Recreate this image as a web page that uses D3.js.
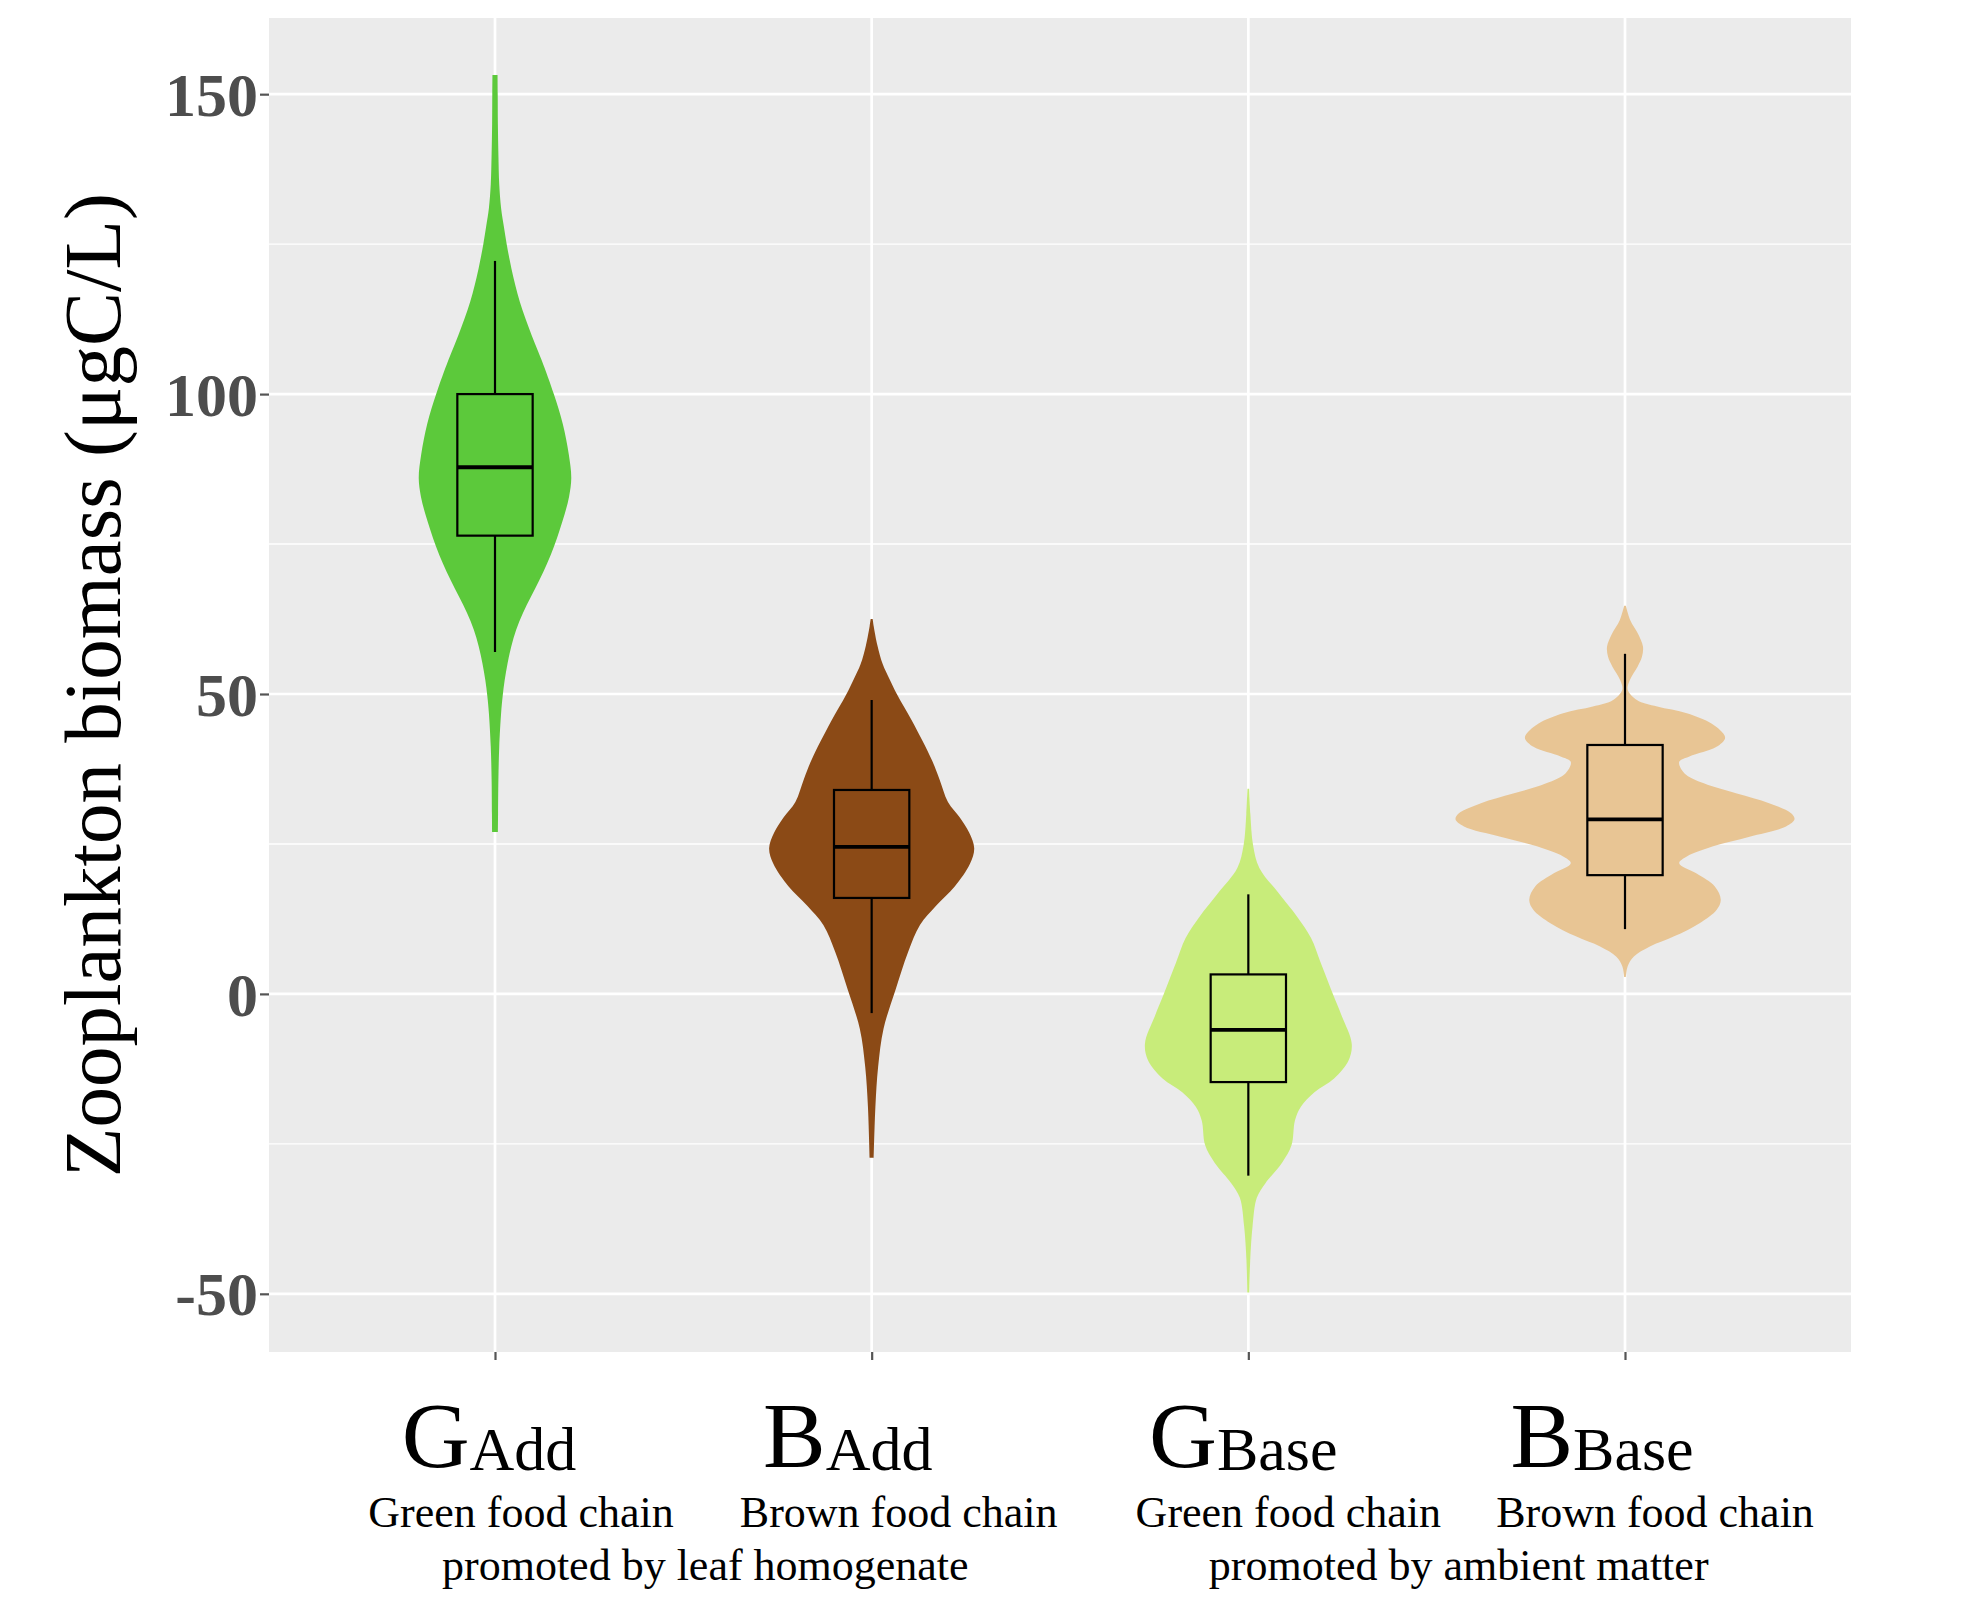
<!DOCTYPE html>
<html>
<head>
<meta charset="utf-8">
<script src="https://cdn.jsdelivr.net/npm/d3@7"></script>
<style>
  body { margin: 0; background: white; }
  svg { display: block; }
</style>
</head>
<body>
<div id="chart"></div>
<script>

// DATA =========================================
const categories = ["GAdd", "BAdd", "GBase", "BBase"];
const mainLetters = ["G", "B", "G", "B"];
const subLetters = ["Add", "Add", "Base", "Base"];
const chainLabels = ["Green food chain", "Brown food chain", "Green food chain", "Brown food chain"];
const groupLabels = ["promoted by leaf homogenate", "promoted by ambient matter"];
const fillColors = ["#5CC93B", "#8B4A16", "#C8EC7A", "#E8C594"];

// box plot stats
const whiskerLow  = [57, -3.2, -30.3, 10.8];
const q1          = [76.4, 16, -14.7, 19.8];
const median      = [87.8, 24.5, -6, 29.1];
const q3          = [100, 34, 3.25, 41.5];
const whiskerHigh = [122.2, 49, 16.6, 56.7];

// violin outlines: [value, relative half width] (1 = widest violin)
const gaddViolin = [
  [153.2, 0.015], [150, 0.016], [145, 0.017], [140, 0.02], [135, 0.025],
  [131, 0.036], [128, 0.052], [125, 0.069], [122.3, 0.087], [119.5, 0.108],
  [116.8, 0.132], [114, 0.162], [111.2, 0.198], [108.4, 0.236], [105.6, 0.276],
  [100, 0.347], [95, 0.40], [90, 0.435], [86, 0.45], [82.9, 0.437],
  [80.1, 0.412], [77.4, 0.382], [74.6, 0.348], [71.8, 0.308], [69, 0.262],
  [66.2, 0.212], [63.5, 0.165], [60.7, 0.125], [57.9, 0.096], [55.1, 0.074],
  [52.3, 0.057], [49.6, 0.045], [46.8, 0.036], [41.2, 0.025], [35.7, 0.02],
  [30, 0.018], [27, 0.017]
];
const baddViolin = [
  [62.5, 0.006], [61.3, 0.012], [58.1, 0.034], [55, 0.065], [52.5, 0.105],
  [49.9, 0.15], [45.4, 0.24], [39, 0.355], [35.8, 0.40], [32, 0.45],
  [29.4, 0.52], [26.9, 0.575], [24.3, 0.605], [21.7, 0.58], [17.9, 0.49],
  [14.7, 0.38], [11.5, 0.285], [7, 0.215], [0.6, 0.14], [-5.8, 0.07],
  [-12.2, 0.038], [-18.8, 0.022], [-27.3, 0.012]
];
const gbaseViolin = [
  [34.2, 0.005], [30, 0.012], [24.8, 0.028], [21, 0.065], [16.9, 0.176],
  [12.8, 0.29], [9.3, 0.37], [5.2, 0.427], [-0.1, 0.50], [-3.6, 0.55],
  [-8.3, 0.61], [-11.2, 0.59], [-14.1, 0.506], [-16.4, 0.39], [-18.8, 0.31],
  [-21.1, 0.275], [-25.2, 0.255], [-28.1, 0.20], [-31.6, 0.10], [-34, 0.05],
  [-38.7, 0.025], [-44.5, 0.011], [-49.8, 0.006]
];
const bbaseViolin = [
  [64.7, 0.005], [62.3, 0.031], [60.1, 0.076], [57.9, 0.106], [56.2, 0.10],
  [54.6, 0.075], [52.3, 0.028], [50.7, 0.016], [49, 0.07], [47.9, 0.19],
  [46.8, 0.365], [45.1, 0.51], [43.4, 0.58], [42.6, 0.59], [41.2, 0.54],
  [39.6, 0.38], [38.7, 0.32], [36.8, 0.35], [35.1, 0.465], [33.4, 0.66],
  [31.8, 0.85], [30.1, 0.98], [29.1, 1.0], [27.9, 0.95], [26.2, 0.735],
  [24.6, 0.52], [22.9, 0.365], [21.8, 0.32], [20.1, 0.42], [17.9, 0.53],
  [15.7, 0.565], [14, 0.54], [11.8, 0.44], [9.6, 0.29], [7.9, 0.147],
  [6.2, 0.051], [4.6, 0.016], [2.8, 0.005]
];
const violins = [gaddViolin, baddViolin, gbaseViolin, bbaseViolin];

const yTicks = [-50, 0, 50, 100, 150];
const yMinorTicks = [-25, 25, 75, 125];
const yTitle = "Zooplankton biomass (\u03bcgC/L)";

// LAYOUT =======================================
const width = 1983;
const height = 1597;
const panel = { left: 269, right: 1851, top: 18, bottom: 1352 };
const mainLabelDx = [-6, -24, -5, -23];
const chainLabelDx = [26, 27, 40, 30];
const serif = "'Liberation Serif', 'Times New Roman', serif";

const svg = d3.select("#chart")
  .append("svg")
  .attr("width", width)
  .attr("height", height)
  .style("background-color", "white");

// SCALES =======================================
const xScale = d3.scalePoint()
  .domain(categories)
  .range([panel.left, panel.right])
  .padding(0.6);

const yScale = d3.scaleLinear()
  .domain([-59.7, 162.7])
  .range([panel.bottom, panel.top]);

const step = xScale.step();
const violinHalf = 0.45 * step;  // widest violin spans 0.9 of a category
const boxHalf = 0.1 * step;

// PANEL + GRID =================================
svg.append("rect")
  .attr("x", panel.left)
  .attr("y", panel.top)
  .attr("width", panel.right - panel.left)
  .attr("height", panel.bottom - panel.top)
  .attr("fill", "#EBEBEB");

svg.append("g")
  .selectAll("line")
  .data(yMinorTicks)
  .join("line")
  .attr("x1", panel.left)
  .attr("x2", panel.right)
  .attr("y1", d => yScale(d))
  .attr("y2", d => yScale(d))
  .attr("stroke", "white")
  .attr("stroke-width", 1.4);

svg.append("g")
  .selectAll("line")
  .data(yTicks)
  .join("line")
  .attr("x1", panel.left)
  .attr("x2", panel.right)
  .attr("y1", d => yScale(d))
  .attr("y2", d => yScale(d))
  .attr("stroke", "white")
  .attr("stroke-width", 2.7);

svg.append("g")
  .selectAll("line")
  .data(categories)
  .join("line")
  .attr("x1", d => xScale(d))
  .attr("x2", d => xScale(d))
  .attr("y1", panel.top)
  .attr("y2", panel.bottom)
  .attr("stroke", "white")
  .attr("stroke-width", 2.7);

// VIOLINS ======================================
const violinArea = d3.area()
  .y(d => yScale(d[0]))
  .x0(d => -d[1] * violinHalf)
  .x1(d => d[1] * violinHalf)
  .curve(d3.curveCatmullRom.alpha(0.5));

const groups = svg.append("g")
  .selectAll("g.group")
  .data(categories)
  .join("g")
  .attr("class", "group")
  .attr("transform", d => `translate(${xScale(d)}, 0)`);

groups.append("path")
  .attr("d", (d, i) => violinArea(violins[i]))
  .attr("fill", (d, i) => fillColors[i]);

// BOXPLOTS =====================================
groups.append("line")
  .attr("y1", (d, i) => yScale(whiskerHigh[i]))
  .attr("y2", (d, i) => yScale(q3[i]))
  .attr("stroke", "black")
  .attr("stroke-width", 2.2);

groups.append("line")
  .attr("y1", (d, i) => yScale(q1[i]))
  .attr("y2", (d, i) => yScale(whiskerLow[i]))
  .attr("stroke", "black")
  .attr("stroke-width", 2.2);

groups.append("rect")
  .attr("x", -boxHalf)
  .attr("width", boxHalf * 2)
  .attr("y", (d, i) => yScale(q3[i]))
  .attr("height", (d, i) => yScale(q1[i]) - yScale(q3[i]))
  .attr("fill", (d, i) => fillColors[i])
  .attr("stroke", "black")
  .attr("stroke-width", 2.2);

groups.append("line")
  .attr("x1", -boxHalf)
  .attr("x2", boxHalf)
  .attr("y1", (d, i) => yScale(median[i]))
  .attr("y2", (d, i) => yScale(median[i]))
  .attr("stroke", "black")
  .attr("stroke-width", 3.8);

// AXES =========================================
const yAxis = svg.append("g")
  .attr("transform", `translate(${panel.left}, 0)`)
  .call(d3.axisLeft(yScale)
    .tickValues(yTicks)
    .tickFormat(d => String(d))  // plain hyphen, as in the figure
    .tickSize(9)
    .tickPadding(2));

yAxis.select(".domain").remove();
yAxis.selectAll(".tick line")
  .attr("stroke", "#555")
  .attr("stroke-width", 2.2);
yAxis.selectAll(".tick text")
  .style("font-family", serif)
  .style("font-weight", 700)
  .style("font-size", "62px")
  .attr("fill", "#4D4D4D")
  .attr("dy", "0.34em");

const xAxis = svg.append("g")
  .attr("transform", `translate(0, ${panel.bottom})`)
  .call(d3.axisBottom(xScale).tickSize(8).tickFormat(""));

xAxis.select(".domain").remove();
xAxis.selectAll(".tick line")
  .attr("stroke", "#555")
  .attr("stroke-width", 2.2);

// Y TITLE ======================================
svg.append("text")
  .attr("transform", `translate(120, ${(panel.top + panel.bottom) / 2}) rotate(-90)`)
  .attr("text-anchor", "middle")
  .style("font-family", serif)
  .style("font-size", "81px")
  .attr("fill", "black")
  .text(yTitle);

// X LABELS =====================================
const mainLabels = svg.append("g")
  .selectAll("text")
  .data(categories)
  .join("text")
  .attr("x", (d, i) => xScale(d) + mainLabelDx[i])
  .attr("y", 1467)
  .attr("text-anchor", "middle")
  .style("font-family", serif)
  .attr("fill", "black");

mainLabels.append("tspan")
  .style("font-size", "94px")
  .text((d, i) => mainLetters[i]);

mainLabels.append("tspan")
  .style("font-size", "62px")
  .attr("dy", 3)
  .text((d, i) => subLetters[i]);

svg.append("g")
  .selectAll("text")
  .data(categories)
  .join("text")
  .attr("x", (d, i) => xScale(d) + chainLabelDx[i])
  .attr("y", 1527)
  .attr("text-anchor", "middle")
  .style("font-family", serif)
  .style("font-size", "44px")
  .attr("fill", "black")
  .text((d, i) => chainLabels[i]);

svg.append("g")
  .selectAll("text")
  .data(groupLabels)
  .join("text")
  .attr("x", (d, i) => (xScale(categories[i * 2]) + xScale(categories[i * 2 + 1])) / 2 + 22)
  .attr("y", 1580)
  .attr("text-anchor", "middle")
  .style("font-family", serif)
  .style("font-size", "44px")
  .attr("fill", "black")
  .text(d => d);

</script>
</body>
</html>
